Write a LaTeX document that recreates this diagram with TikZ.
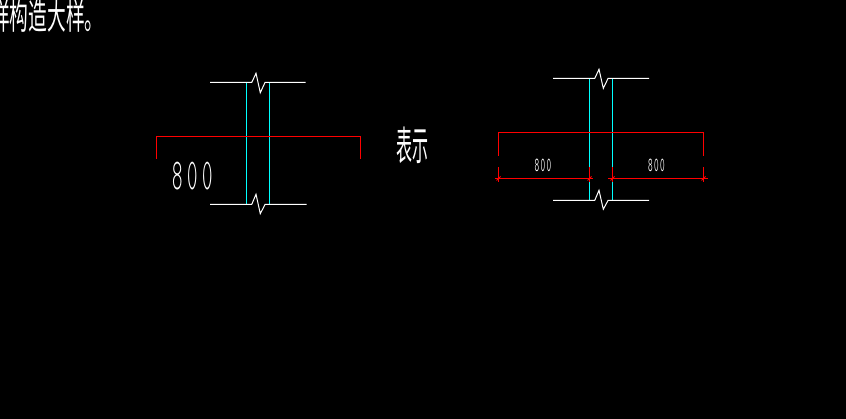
\documentclass[tikz,border=0pt]{standalone}
\usepackage{graphicx}
\usepackage{fontspec}
\newfontfamily\cjk{Noto Sans CJK SC}
\definecolor{cadcyan}{RGB}{0,255,255}
\definecolor{cadred}{RGB}{255,0,0}
\newcommand{\cadcjk}[2]{\scalebox{#1}[1]{\cjk #2}}
\newcommand{\caddim}[3]{\scalebox{.45}[1]{\fontsize{#1}{#1}\fontseries{#2}\ttfamily 8\kern#3 0\kern#3 0}}
\begin{document}
\begin{tikzpicture}[x=1pt,y=-1pt,
    wallline/.style={white,line width=1pt},
    cyanline/.style={cadcyan,line width=1pt},
    redline/.style={cadred,line width=1pt},
    cadtext/.style={white,inner sep=0pt}]
      \useasboundingbox (0,0) rectangle (846,419);
      \fill[black] (0,0) rectangle (846,419);
      % left detail
      \coordinate (TLa) at (210,82.5);
      \coordinate (TLb) at (251.7,82.5);
      \coordinate (TLc) at (265,82.5);
      \coordinate (TLd) at (305.7,82.5);
      \coordinate (BLa) at (210,204.5);
      \coordinate (BLb) at (251.7,204.5);
      \coordinate (BLc) at (265,204.5);
      \coordinate (BLd) at (306.5,204.5);
      \coordinate (CLa) at (246.5,82.5);
      \coordinate (CLb) at (269.5,82.5);
      \coordinate (DLa) at (246.5,204.5);
      \coordinate (DLb) at (269.5,204.5);
      \coordinate (RLa) at (156.5,158.7);
      \coordinate (RLb) at (156.5,136.5);
      \coordinate (RLc) at (360.5,136.5);
      \coordinate (RLd) at (360.5,159.3);
      \draw[cyanline] (CLa) -- (DLa);
      \draw[cyanline] (CLb) -- (DLb);
      \draw[wallline] (TLa) -- (TLb) -- (256,73.3) -- (260.3,92.7) -- (TLc) -- (TLd);
      \draw[wallline] (BLa) -- (BLb) -- (256,194.3) -- (260.3,213.7) -- (BLc) -- (BLd);
      \draw[redline] (RLa) -- (RLb) -- (RLc) -- (RLd);
      \node[cadtext] (dimL) at (192.5,176) {\caddim{44}{l}{10pt}};
      % middle and top words
      \node[cadtext] (word) at (412.5,145.5) {\cadcjk{.4}{\fontsize{40}{40}\selectfont 表示}};
      \node[cadtext,anchor=west] (title) at (-9,16) {\cadcjk{.52}{\fontsize{36}{36}\selectfont 样构造大样。}};
      % right detail
      \coordinate (TRa) at (553,78.5);
      \coordinate (TRb) at (594.7,78.5);
      \coordinate (TRc) at (608,78.5);
      \coordinate (TRd) at (649,78.5);
      \coordinate (BRa) at (553,200.5);
      \coordinate (BRb) at (594.7,200.5);
      \coordinate (BRc) at (608,200.5);
      \coordinate (BRd) at (649,200.5);
      \coordinate (CRa) at (589.5,78.5);
      \coordinate (CRb) at (612.5,78.5);
      \coordinate (DRa) at (589.5,200.5);
      \coordinate (DRb) at (612.5,200.5);
      \coordinate (RRa) at (498.5,155.7);
      \coordinate (RRb) at (498.5,132.5);
      \coordinate (RRc) at (703.5,132.5);
      \coordinate (RRd) at (703.5,155.7);
      \coordinate (EA) at (498.5,178.5);
      \coordinate (EB) at (589.5,178.5);
      \coordinate (EC) at (612.5,178.5);
      \coordinate (ED) at (703.5,178.5);
      \coordinate (FA) at (495.3,178.5);
      \coordinate (FB) at (593.3,178.5);
      \coordinate (FC) at (608.3,178.5);
      \coordinate (FD) at (707.7,178.5);
      \draw[cyanline] (CRa) -- (DRa);
      \draw[cyanline] (CRb) -- (DRb);
      \draw[wallline] (TRa) -- (TRb) -- (599,69.3) -- (603.3,88.3) -- (TRc) -- (TRd);
      \draw[wallline] (BRa) -- (BRb) -- (599,190.3) -- (603.3,209.3) -- (BRc) -- (BRd);
      \draw[redline] (RRa) -- (RRb) -- (RRc) -- (RRd);
      \draw[redline] (FA) -- (FB);
      \draw[redline] (FC) -- (FD);
      \foreach \p in {EA,EB,EC,ED} {
        \draw[redline] (\p) ++(0,-11) -- ++(0,14.4);
        \draw[redline,line width=.8pt] (\p) ++(-2,2) -- ++(4,-4);
      }
      \node[cadtext] (dimA) at (543,165) {\caddim{20}{m}{3pt}};
      \node[cadtext] (dimB) at (656.5,165) {\caddim{20}{m}{3pt}};
    \end{tikzpicture}
\end{document}
